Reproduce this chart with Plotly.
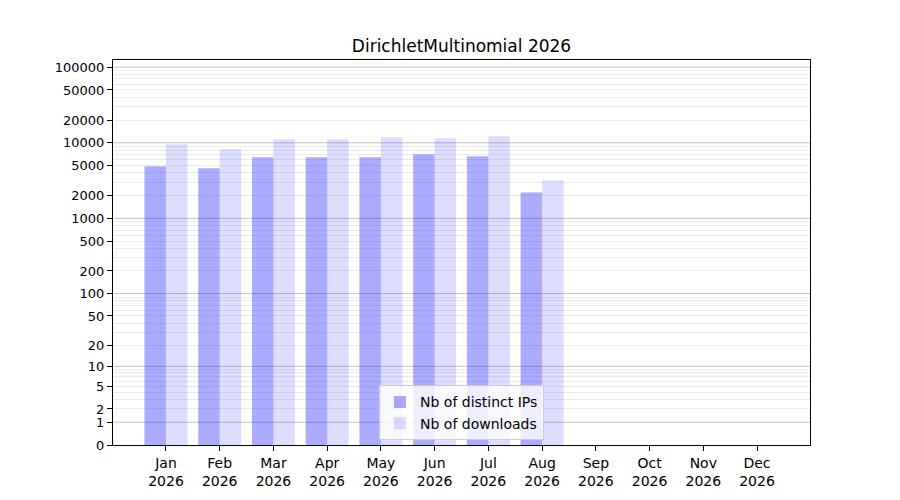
import numpy as np
import plotly.graph_objects as go

# monthly stats (Jan..Aug 2026)
months = ["Jan", "Feb", "Mar", "Apr", "May", "Jun", "Jul", "Aug", "Sep", "Oct", "Nov", "Dec"]
year = "2026"
distinct_ips = [4900, 4600, 6450, 6450, 6450, 7050, 6650, 2200]
downloads = [9550, 8250, 11150, 11150, 11850, 11500, 12200, 3200]
tick_labels = [0, 1, 2, 5, 10, 20, 50, 100, 200, 500, 1000, 2000, 5000, 10000, 20000, 50000, 100000]


def tr(v):
    # log(1 + x) scale, as in the original chart
    return np.log10(1 + np.asarray(v, dtype=float))


x_data = list(range(len(distinct_ips)))
major = [10 ** k for k in range(0, 6)]
minor = [m * 10 ** k for k in range(0, 5) for m in range(2, 10)]

fig = go.Figure()
fig.add_trace(go.Bar(x=x_data, y=tr(distinct_ips), name="Nb of distinct IPs",
                     marker=dict(color="rgba(0,0,255,0.33)", line=dict(width=0))))
fig.add_trace(go.Bar(x=x_data, y=tr(downloads), name="Nb of downloads",
                     marker=dict(color="rgba(0,0,255,0.135)", line=dict(width=0))))

# darker grid lines at powers of ten
for v in major:
    fig.add_shape(type="line", xref="paper", x0=0, x1=1, yref="y", y0=float(tr(v)), y1=float(tr(v)),
                  line=dict(color="#c4c4c4", width=1), layer="below")

fig.update_layout(
    width=900, height=500,
    paper_bgcolor="white", plot_bgcolor="white",
    margin=dict(l=105, r=98, t=52, b=63),
    font=dict(family="DejaVu Sans", size=14, color="black"),
    title=dict(text="DirichletMultinomial 2026", x=0.5, xref="paper", y=1 - 38 / 500, yref="container",
               xanchor="center", yanchor="middle", font=dict(size=17)),
    barmode="group", bargap=0.2, bargroupgap=0,
    showlegend=True,
    legend=dict(x=0.5, xanchor="center", y=0.012, yanchor="bottom",
                bgcolor="rgba(255,255,255,0.8)", bordercolor="#cccccc", borderwidth=1,
                font=dict(size=14), tracegroupgap=0),
    xaxis=dict(range=[-0.986, 11.986], tickmode="array", tickvals=list(range(12)),
               ticktext=[f"{m}<br>{year}" for m in months],
               showgrid=False, zeroline=False, showline=True, linecolor="black", linewidth=1,
               mirror=True, ticks="outside", ticklen=5, tickcolor="black"),
    yaxis=dict(range=[0, 5.096], tickmode="array", tickvals=tr(tick_labels).tolist(),
               ticktext=[str(t) for t in tick_labels], tickfont=dict(size=13),
               showgrid=False, zeroline=False, showline=True, linecolor="black", linewidth=1,
               mirror=True, ticks="outside", ticklen=5, tickcolor="black",
               minor=dict(tickmode="array", tickvals=tr(minor).tolist(), showgrid=True,
                          gridcolor="#ececec", gridwidth=1, ticks="")),
)

fig.write_html("out.html")
